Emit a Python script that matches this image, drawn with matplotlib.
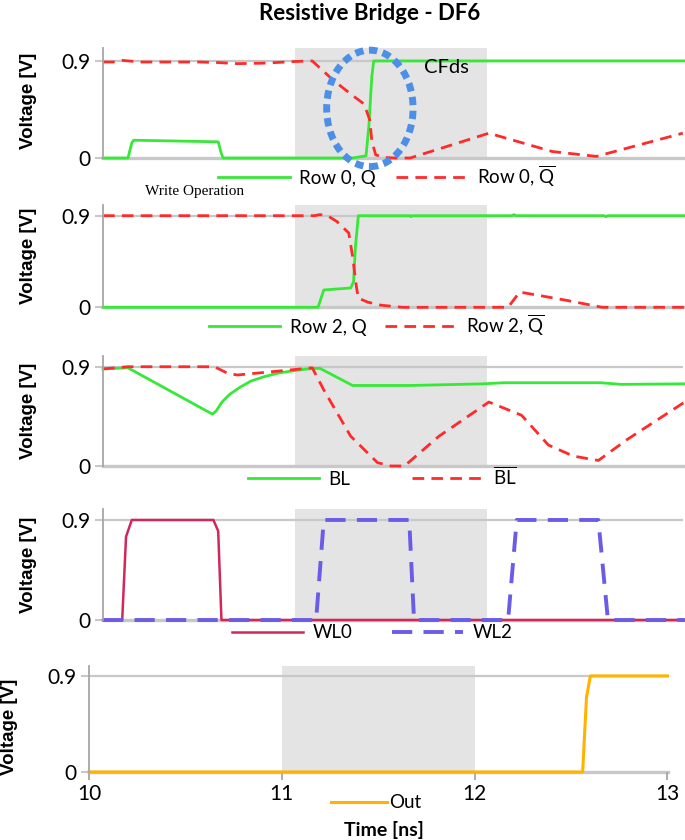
import matplotlib
matplotlib.use("Agg")
import matplotlib.pyplot as plt
from matplotlib.patches import Ellipse

plt.rcParams['font.family'] = ['Lato', 'DejaVu Sans']
plt.rcParams['mathtext.fontset'] = 'custom'
plt.rcParams['mathtext.rm'] = 'Lato'
plt.rcParams['mathtext.it'] = 'Lato:italic'
plt.rcParams['mathtext.bf'] = 'Lato:bold'

# ---- data (time in ns, voltage in V) ----
q0_t = [10.0, 10.13, 10.15, 10.16, 10.60, 10.615, 10.625, 11.30, 11.37, 11.385, 11.40, 11.41, 13.03]
q0_v = [0, 0, 0.14, 0.165, 0.15, 0.05, 0, 0, 0.02, 0.3, 0.75, 0.9, 0.9]
qb0_t = [10.0, 10.05, 10.1, 10.2, 10.5, 10.6, 10.7, 10.85, 11.0, 11.09, 11.2, 11.3,
         11.36, 11.39, 11.40, 11.42, 11.46, 11.52, 11.60, 12.01, 12.34, 12.57, 13.02]
qb0_v = [0.89, 0.89, 0.905, 0.89, 0.89, 0.885, 0.875, 0.88, 0.895, 0.9, 0.72, 0.58,
         0.50, 0.35, 0.16, 0.03, 0.005, 0.0, 0.0, 0.23, 0.06, 0.015, 0.23]

q2_t = [10.0, 11.12, 11.15, 11.29, 11.305, 11.315, 11.33, 11.60, 11.605, 11.61,
        12.13, 12.14, 12.15, 12.61, 12.62, 12.63, 13.03]
q2_v = [0, 0, 0.17, 0.19, 0.25, 0.6, 0.9, 0.9, 0.89, 0.9, 0.9, 0.91, 0.9, 0.9, 0.89, 0.9, 0.9]
qb2_t = [10.0, 11.10, 11.13, 11.17, 11.22, 11.28, 11.30, 11.32, 11.33, 11.38, 11.45,
         11.56, 12.11, 12.17, 12.41, 12.60, 13.03]
qb2_v = [0.9, 0.9, 0.91, 0.9, 0.84, 0.73, 0.5, 0.2, 0.09, 0.05, 0.02, 0, 0, 0.15, 0.07, 0.0, 0.0]

bl_t = [10.0, 10.13, 10.35, 10.57, 10.59, 10.62, 10.66, 10.71, 10.77, 10.84, 10.92,
        11.04, 11.10, 11.13, 11.30, 11.60, 11.98, 12.09, 12.59, 12.70, 13.03]
bl_v = [0.88, 0.89, 0.68, 0.47, 0.5, 0.58, 0.65, 0.71, 0.77, 0.81, 0.845,
        0.875, 0.885, 0.885, 0.73, 0.73, 0.745, 0.755, 0.755, 0.74, 0.745]
blb_t = [10.0, 10.13, 10.58, 10.65, 10.70, 10.88, 11.06, 11.09, 11.15, 11.29, 11.43,
         11.50, 11.57, 11.75, 12.01, 12.18, 12.32, 12.45, 12.58, 12.73, 13.03]
blb_v = [0.88, 0.9, 0.9, 0.84, 0.825, 0.855, 0.885, 0.89, 0.69, 0.27, 0.03,
         0.0, 0.0, 0.27, 0.58, 0.46, 0.19, 0.09, 0.05, 0.24, 0.58]

wl0_t = [10.0, 10.10, 10.12, 10.15, 10.575, 10.60, 10.617, 13.03]
wl0_v = [0, 0, 0.75, 0.9, 0.9, 0.8, 0, 0]
wl2_t = [10.0, 11.11, 11.15, 11.595, 11.62, 12.11, 12.155, 12.58, 12.63, 13.03]
wl2_v = [0, 0, 0.9, 0.9, 0, 0, 0.9, 0.9, 0, 0]

out_t = [10.0, 12.56, 12.58, 12.60, 13.0]
out_v = [0, 0, 0.7, 0.9, 0.9]

shade = (11.0, 12.0)

GREEN = '#38e838'
RED = '#ff2a2a'
GRID = '#c8c8c8'
W, H = 685, 840

fig = plt.figure(figsize=(6.85, 8.4), dpi=100)


def make_ax(left, right, zero_px, top_px, xmax, ytop):
    ax = fig.add_axes([left / W, 1 - zero_px / H, (right - left) / W, (zero_px - top_px) / H])
    ax.set_xlim(10, xmax)
    ax.set_ylim(0, ytop)
    ax.axvspan(*shade, color='#e4e4e4', lw=0, zorder=0)
    ax.axhline(0.9, color=GRID, lw=1.6, zorder=1.5)
    ax.axhline(0, color=GRID, lw=2.4, zorder=1.5, clip_on=False)
    for s in ['top', 'right', 'bottom']:
        ax.spines[s].set_visible(False)
    ax.spines['left'].set_color('#a6a6a6')
    ax.spines['left'].set_linewidth(1.3)
    ax.set_yticks([0, 0.9])
    ax.set_yticklabels(['0', '0.9'])
    ax.tick_params(axis='y', length=6, color=GRID, width=1.5, labelsize=15, pad=3)
    ax.set_xticks([])
    ax.set_ylabel('Voltage [V]', fontsize=13.5, fontweight='bold', family='Liberation Sans')
    return ax


def leg(ax, cx, cy, colsp):
    ax.legend(loc='center', bbox_to_anchor=(cx / W, 1 - cy / H), bbox_transform=fig.transFigure,
              ncol=2, frameon=False, handlelength=3.8, handletextpad=0.5,
              columnspacing=colsp, fontsize=13.5, borderpad=0, borderaxespad=0)


# Panel 1: Row 0
ax1 = make_ax(103, 683, 158, 48, 13.021, 1.02)
ax1.plot(q0_t, q0_v, color=GREEN, lw=2, label='Row 0, Q', clip_on=False)
ax1.plot(qb0_t, qb0_v, color=RED, lw=2, dashes=(4.2, 2.6), label=r'Row 0, $\overline{\mathrm{Q}}$', clip_on=False)
ax1.add_patch(Ellipse((11.39, 0.46), width=0.45, height=1.08, fill=False, ec='#4b8fe8',
                      lw=5, ls=(0, (1.2, 0.8)), clip_on=False, zorder=5))
ax1.text(11.67, 0.84, 'CFds', fontsize=14.5, va='center', ha='left')
leg(ax1, 387, 176, 1.1)
ax1.yaxis.set_label_coords(-0.114, 0.52)

# Panel 2: Row 2
ax2 = make_ax(103, 683, 307.3, 205, 13.021, 1.005)
ax2.plot(q2_t, q2_v, color=GREEN, lw=2, label='Row 2, Q', clip_on=False)
ax2.plot(qb2_t, qb2_v, color=RED, lw=2, dashes=(4.2, 2.6), label=r'Row 2, $\overline{\mathrm{Q}}$', clip_on=False)
leg(ax2, 377, 325, 1.0)
ax2.yaxis.set_label_coords(-0.114, 0.5)

# Panel 3: bit lines
ax3 = make_ax(103, 683, 466, 355.7, 13.021, 1.0)
ax3.plot(bl_t, bl_v, color=GREEN, lw=2, label='BL', clip_on=False)
ax3.plot(blb_t, blb_v, color=RED, lw=2, dashes=(4.2, 2.6), label=r'$\overline{\mathrm{BL}}$', clip_on=False)
leg(ax3, 382, 477, 3.3)
ax3.yaxis.set_label_coords(-0.114, 0.5)

# Panel 4: word lines
ax4 = make_ax(103, 683, 620, 509.3, 13.021, 0.996)
ax4.plot(wl0_t, wl0_v, color='#d0285a', lw=1.8, label='WL0', clip_on=False)
ax4.plot(wl2_t, wl2_v, color='#6b5ce7', lw=2.8, dashes=(5.2, 2.9), label='WL2', clip_on=False)
leg(ax4, 372, 633, 2.1)
ax4.yaxis.set_label_coords(-0.114, 0.5)

# Panel 5: output
ax5 = make_ax(89, 667.5, 772, 665.7, 13.0, 0.996)
ax5.plot(out_t, out_v, color='#ffb300', lw=2.2, label='Out', clip_on=False)
ax5.set_xticks([10, 11, 12, 13])
ax5.tick_params(axis='x', length=6, color='#a6a6a6', width=1.3, labelsize=15, pad=3)
ax5.legend(loc='center', bbox_to_anchor=(376 / W, 1 - 803 / H), bbox_transform=fig.transFigure,
           frameon=False, handlelength=3.0, handletextpad=0.1, fontsize=13.5, borderpad=0, borderaxespad=0)
ax5.yaxis.set_label_coords(-0.122, 0.42)

fig.text(145 / W, 1 - 192 / H, 'Write Operation', family='Liberation Serif', fontsize=11,
         ha='left', va='center')
fig.text(370 / W, 1 - 14 / H, 'Resistive Bridge - DF6', fontsize=16, fontweight='bold',
         ha='center', va='center')
fig.text(384 / W, 1 - 830 / H, 'Time [ns]', fontsize=14, fontweight='bold', ha='center', va='center')

fig.savefig('out.png', dpi=100)
